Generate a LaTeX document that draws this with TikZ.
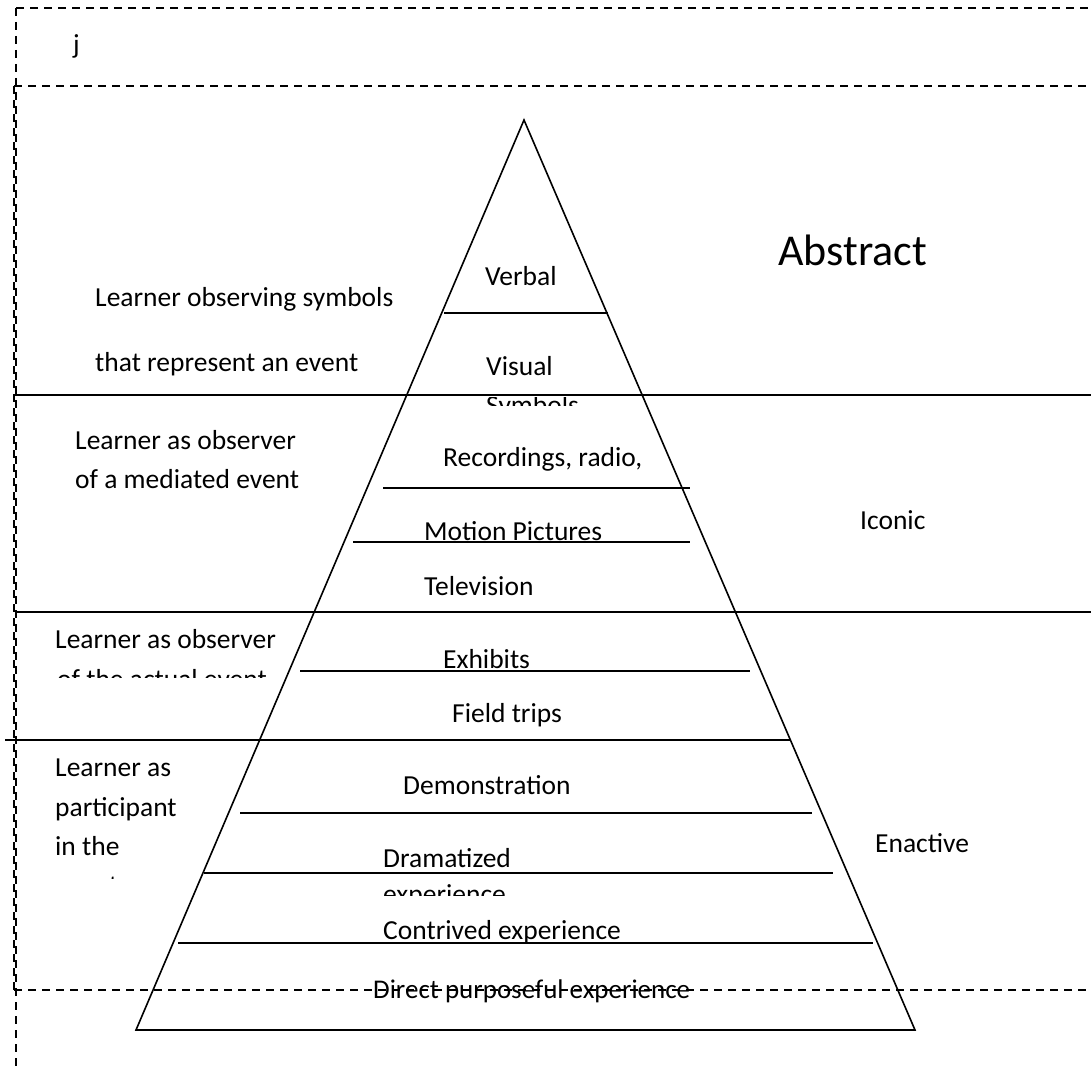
\documentclass[tikz,border=0pt]{standalone}
\usepackage{fontspec}
\setmainfont{Carlito}
\begin{document}
\begin{tikzpicture}[x=1pt,y=-1pt,
  lbl/.style={anchor=base west, inner sep=0pt, font=\fontsize{27.5}{33}\selectfont},
  biglbl/.style={anchor=base west, inner sep=0pt, font=\fontsize{44}{52}\selectfont},
  edge/.style={line width=1.6pt},
  thick edge/.style={line width=2.2pt},
  dash line/.style={line width=1.8pt, dash pattern=on 8pt off 6pt}]
\useasboundingbox (0,0) rectangle (1091,1067);
% dashed frames
\draw[dash line] (16,8) -- (1091,8);
\draw[dash line] (16,8) -- (16,1067);
\draw[dash line] (14,86) -- (1091,86);
\draw[dash line] (14,86) -- (14,990);
\draw[dash line] (14,990) -- (1091,990);
% pyramid
\coordinate (apex) at (524,120);
\coordinate (bl) at (136,1030);
\coordinate (br) at (915,1030);
\draw[edge, line join=miter] (apex) -- (bl) -- (br) -- cycle;
% horizontal rules
\draw[edge] (444,313) -- (608,313);
\draw[thick edge] (15,395) -- (423,395);
\draw[edge] (423,395) -- (1091,395);
\draw[edge] (383,488) -- (690,488);
\draw[edge] (353,542) -- (690,542);
\draw[edge] (15,612) -- (1091,612);
\draw[edge] (300,671) -- (750,671);
\draw[thick edge] (5,740) -- (300,740);
\draw[edge] (300,740) -- (790,740);
\draw[edge] (240,813) -- (812,813);
\draw[edge] (204,873) -- (833,873);
\draw[edge] (178,943) -- (873,943);
% labels
\node[lbl] (j) at (73,54) {j};
\node[biglbl] (abstract) at (778,265) {Abstract};
\node[lbl] (iconic) at (860,529) {Iconic};
\node[lbl] (enactive) at (875,852) {Enactive};
\node[lbl] (verbal) at (485,285) {Verbal};
\node[lbl] (lsym1) at (95,306) {Learner observing symbols};
\node[lbl] (lsym2) at (95,371) {that represent an event};
\node[lbl] (visual) at (486,375) {Visual};
\begin{scope}
  \clip (440,397) rectangle (640,405);
  \node[lbl] (symbols) at (486,414) {Symbols};
\end{scope}
\node[lbl] (lmed1) at (75,449) {Learner as observer};
\node[lbl] (lmed2) at (75,488) {of a mediated event};
\node[lbl] (rec) at (443,466) {Recordings, radio,};
\node[lbl] (motion) at (424,540) {Motion Pictures};
\node[lbl] (tv) at (424,595) {Television};
\node[lbl] (lact1) at (55,648) {Learner as observer};
\begin{scope}
  \clip (40,660) rectangle (300,677);
  \node[lbl] (lact2) at (57,688) {of the actual event};
\end{scope}
\node[lbl] (exhibits) at (443,668) {Exhibits};
\node[lbl] (field) at (452,722) {Field trips};
\node[lbl] (lpar1) at (55,776) {Learner as};
\node[lbl] (lpar2) at (55,816) {participant};
\node[lbl] (lpar3) at (55,855) {in the};
\begin{scope}
  \clip (40,865) rectangle (200,878);
  \node[lbl] (lpar4) at (55,894) {event};
\end{scope}
\node[lbl] (demo) at (403,794) {Demonstration};
\node[lbl] (drama) at (383,867) {Dramatized};
\begin{scope}
  \clip (370,875) rectangle (600,895);
  \node[lbl] (drama2) at (383,903) {experience};
\end{scope}
\node[lbl] (contrived) at (383,939) {Contrived experience};
\node[lbl, font=\fontsize{27}{32}\selectfont] (direct) at (373,998) {Direct purposeful experience};
\end{tikzpicture}
\end{document}
